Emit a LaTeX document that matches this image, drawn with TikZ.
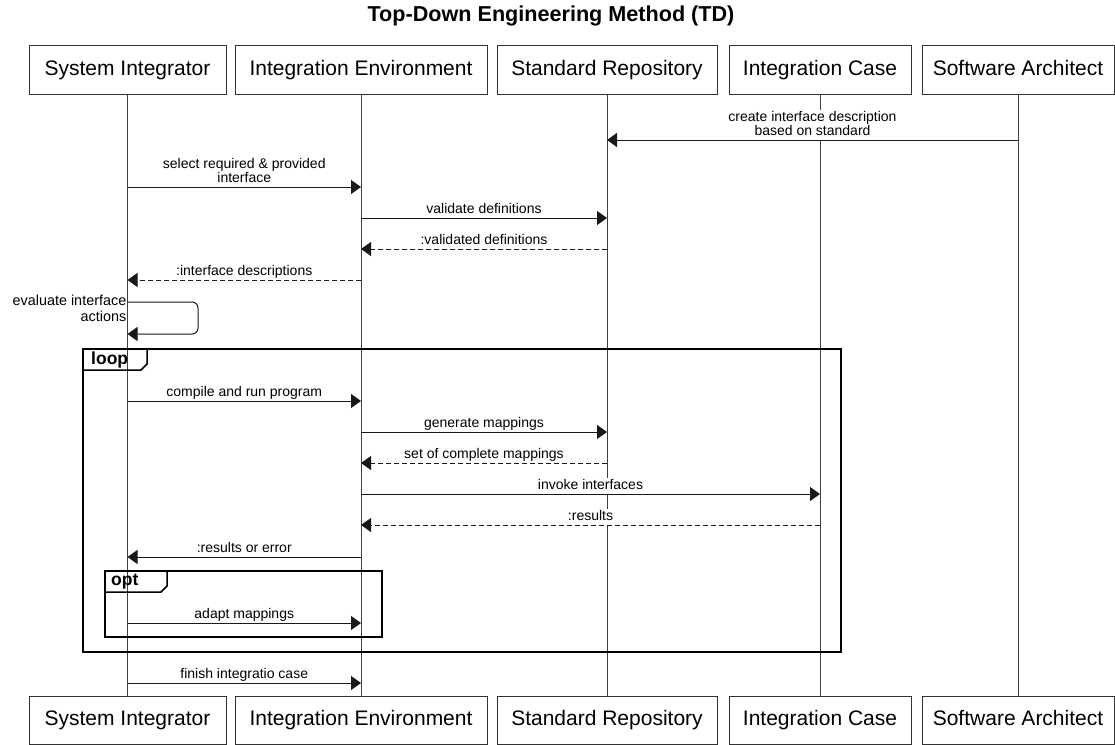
\documentclass[tikz,border=0pt]{standalone}
\usepackage{fontspec}
\setmainfont{Liberation Sans}
\usetikzlibrary{arrows.meta}

% one sequence message between two lifelines at height #4
\newcommand\seqmsg[5][msg]{%
  \draw[#1] (#2.south |- 0,#4) -- node[lbl, above] {#5} (#3.south |- 0,#4);}

\begin{document}
\begin{tikzpicture}[x=1pt,y=-1pt,
  actor/.style={draw=black!80, line width=0.8pt, minimum height=49pt, inner sep=0pt,
    fill=white, font=\fontsize{21}{24}\selectfont, text height=15pt, text depth=4pt},
  life/.style={draw=black!75, line width=0.8pt},
  msg/.style={draw=black!90, line width=1pt, -{Triangle[length=10pt,width=14pt]}},
  ret/.style={msg, dash pattern=on 5pt off 3pt},
  lbl/.style={font=\fontsize{14}{14}\selectfont, fill=white, inner sep=1pt,
    align=center, text depth=3pt},
  fragment/.style={draw=black, line width=2pt},
  fragtab/.style={draw=black, line width=1.5pt},
  tabtext/.style={font=\bfseries\fontsize{17.5}{20}\selectfont, anchor=west, inner sep=0pt}
]
\useasboundingbox (0,0) rectangle (1115,744);

% title
\node[font=\bfseries\fontsize{21.6}{24}\selectfont] (title) at (551,16)
  {Top-Down Engineering Method (TD)};

% participants, top row
\node[actor, minimum width=197pt] (h1) at (127.5,70) {System Integrator};
\node[actor, minimum width=252pt] (h2) at (361,70)   {Integration Environment};
\node[actor, minimum width=220pt] (h3) at (607,70)   {Standard Repository};
\node[actor, minimum width=182pt] (h4) at (820,70)   {Integration Case};
\node[actor, minimum width=192pt] (h5) at (1018,70)  {Software Architect};

% participants, bottom row
\node[actor, minimum width=197pt, minimum height=48pt] (f1) at (127.5,720) {System Integrator};
\node[actor, minimum width=252pt, minimum height=48pt] (f2) at (361,720)   {Integration Environment};
\node[actor, minimum width=220pt, minimum height=48pt] (f3) at (607,720)   {Standard Repository};
\node[actor, minimum width=182pt, minimum height=48pt] (f4) at (820,720)   {Integration Case};
\node[actor, minimum width=192pt, minimum height=48pt] (f5) at (1018,720)  {Software Architect};

% lifelines
\foreach \i in {1,...,5} { \draw[life] (h\i.south) -- (f\i.north); }

% combined fragments
\draw[fragment] (83,349) rectangle (841,652);
\draw[fragtab] (83,370) -- (141,370) -- (147,364) -- (147,349);
\node[tabtext] (looplbl) at (91,360) {loop};

\draw[fragment] (105,571) rectangle (382,637);
\draw[fragtab] (105,592) -- (161,592) -- (167,586) -- (167,571);
\node[tabtext] (optlbl) at (111,582) {opt};

% messages
\seqmsg{h5}{h3}{140}{create interface description\\based on standard}
\seqmsg{h1}{h2}{187}{select required \& provided\\interface}
\seqmsg{h2}{h3}{218}{validate definitions}
\seqmsg[ret]{h3}{h2}{249}{:validated definitions}
\seqmsg[ret]{h2}{h1}{280}{:interface descriptions}

% self message
\coordinate (selfA) at (h1.south |- 0,302);
\coordinate (selfB) at (h1.south |- 0,334);
\draw[msg, rounded corners=6pt] (selfA) -- (198,302) -- (198,334) -- (selfB);
\node[lbl, anchor=north east, align=right, text depth=0pt,
  font=\fontsize{14.4}{16}\selectfont] (selflbl) at (h1.south |- 0,294)
  {evaluate interface\\actions};

\seqmsg{h1}{h2}{401}{compile and run program}
\seqmsg{h2}{h3}{432}{generate mappings}
\seqmsg[ret]{h3}{h2}{463}{set of complete mappings}
\seqmsg{h2}{h4}{494}{invoke interfaces}
\seqmsg[ret]{h4}{h2}{525}{:results}
\seqmsg{h2}{h1}{557}{:results or error}
\seqmsg{h1}{h2}{623}{adapt mappings}
\seqmsg{h1}{h2}{683}{finish integratio case}
\end{tikzpicture}
\end{document}
